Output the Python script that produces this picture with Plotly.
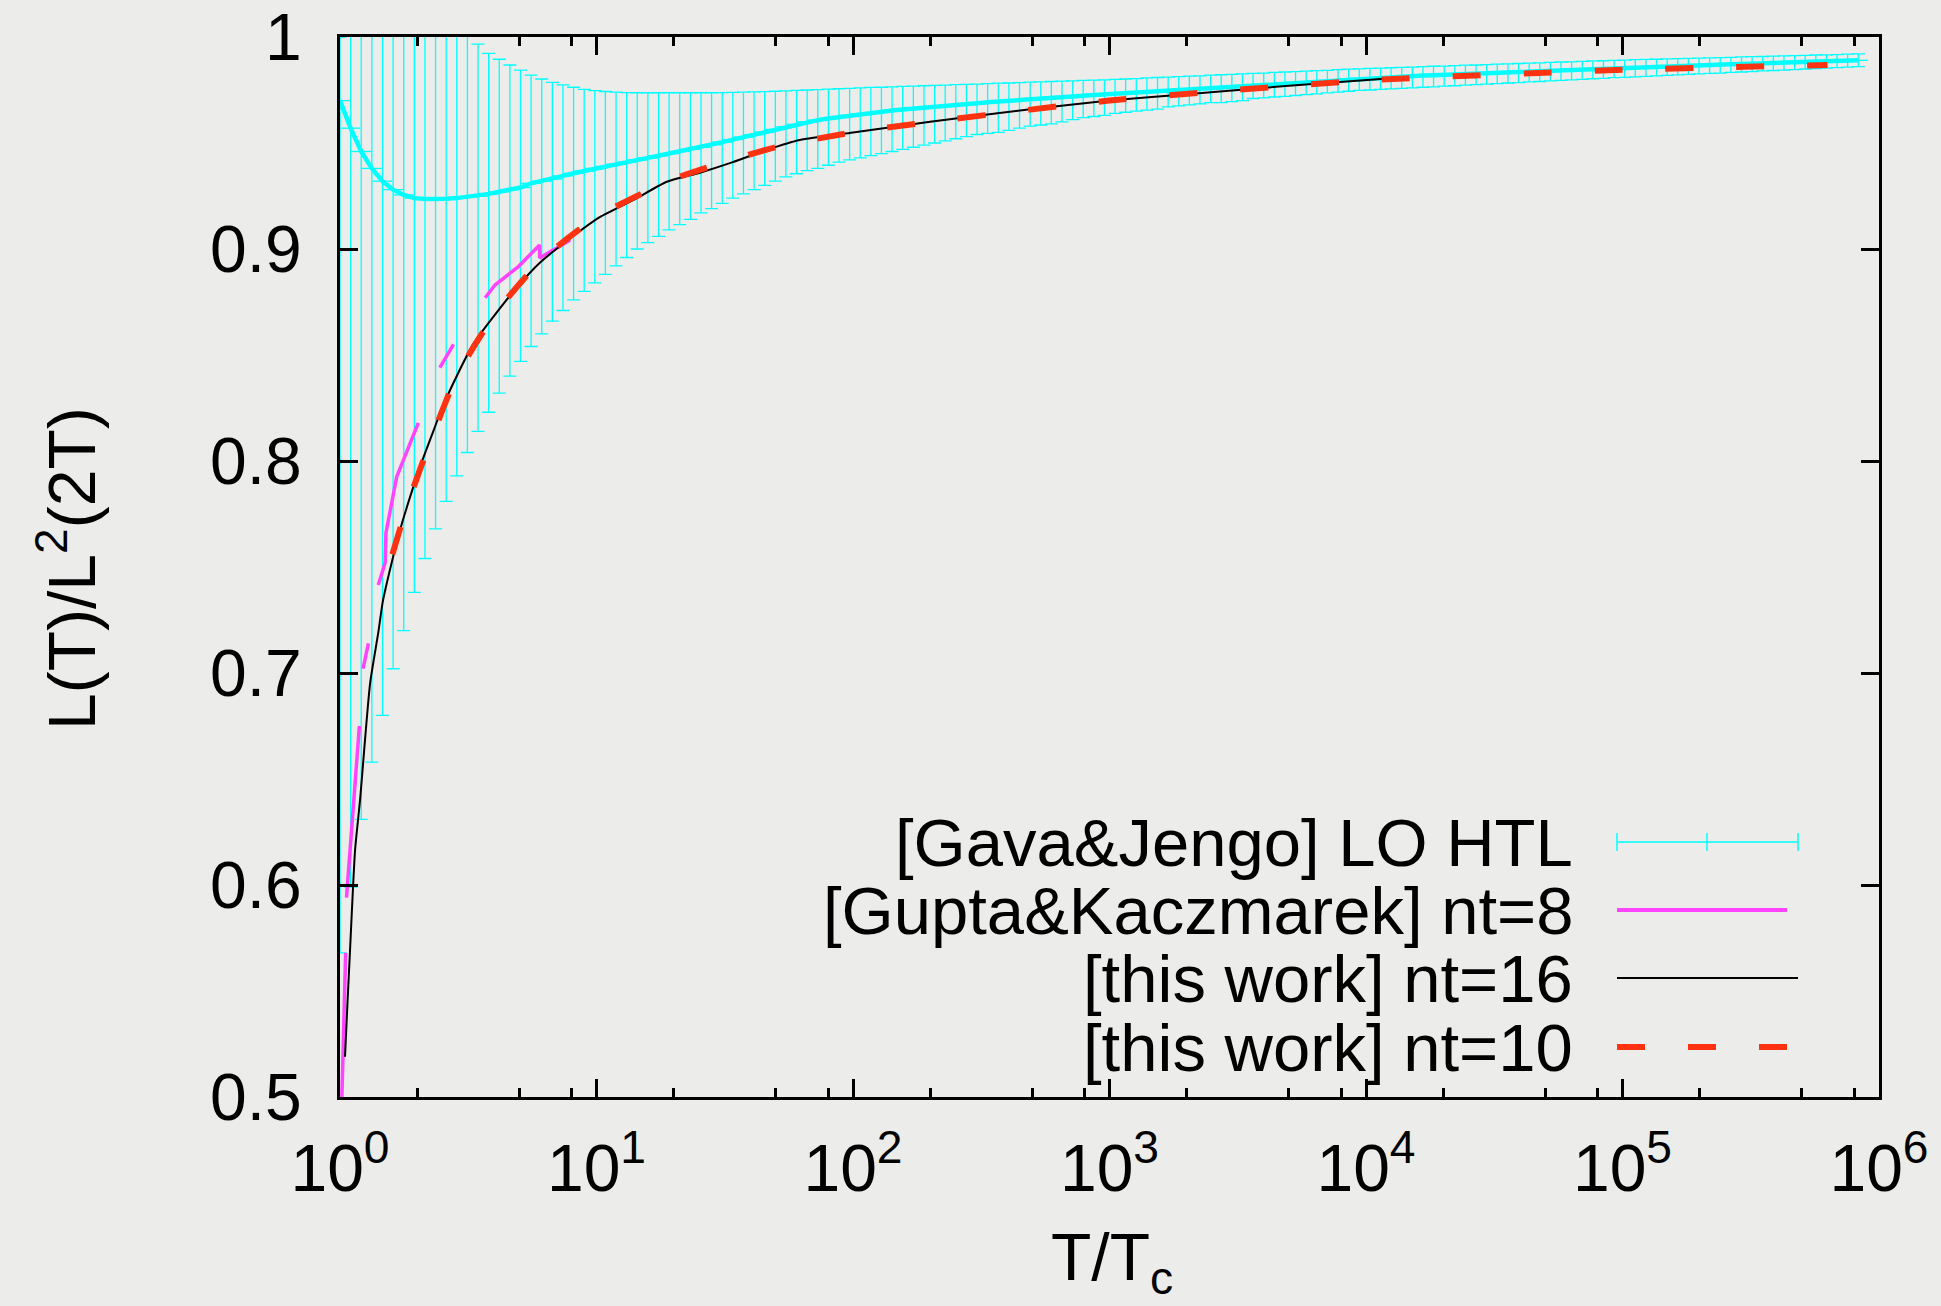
import plotly.graph_objects as go

# ---------------- data ----------------
# [Gava&Jengo] LO HTL : grid of T/Tc, central value, lower and upper band
X_GRID = [1, 1.1, 1.21, 1.331, 1.464, 1.611, 1.772, 1.949, 2.144, 2.358,
          2.594, 2.853, 3.138, 3.452, 3.797, 4.177, 4.595, 5.054, 5.560, 6.116,
          6.727, 7.400, 8.140, 8.954, 9.850, 10.83, 11.92, 13.11, 14.42, 15.86,
          17.45, 19.19, 21.11, 23.23, 25.55, 28.10, 30.91, 34.00, 37.40, 41.14,
          45.26, 49.79, 54.76, 60.24, 66.26, 72.89, 80.18, 88.20, 97.02, 106.7,
          117.4, 129.1, 142.0, 156.2, 171.9, 189.1, 208.0, 228.8, 251.6, 276.8,
          304.5, 334.9, 368.4, 405.3, 445.8, 490.4, 539.4, 593.4, 652.7, 718.0,
          789.7, 868.7, 955.6, 1051, 1156, 1272, 1399, 1539, 1693, 1862,
          2048, 2253, 2479, 2726, 2999, 3299, 3629, 3992, 4391, 4830,
          5313, 5844, 6429, 7072, 7779, 8557, 9412, 10354, 11389, 12528,
          13781, 15159, 16675, 18342, 20176, 22194, 24413, 26855, 29540, 32494,
          35744, 39318, 43250, 47575, 52332, 57566, 63322, 69654, 76620, 84282,
          92710, 101980, 112180, 123400, 135740, 149310, 164240, 180670, 198740, 218610,
          240470, 264520, 290970, 320070, 352080, 387280, 426010, 468610, 515470, 567020,
          623720, 686100, 754710, 830180]

HTL_CENTER = [0.970, 0.957, 0.946, 0.938, 0.932, 0.928, 0.9255, 0.924, 0.9236, 0.9235,
              0.9237, 0.924, 0.9245, 0.925, 0.926, 0.927, 0.928, 0.929, 0.931, 0.932,
              0.933, 0.9345, 0.9357, 0.9368, 0.938, 0.939, 0.940, 0.941, 0.942, 0.943,
              0.944, 0.945, 0.946, 0.947, 0.948, 0.9492, 0.9504, 0.9516, 0.9528, 0.954,
              0.9552, 0.9564, 0.9576, 0.9588, 0.960, 0.9608, 0.9616, 0.9623, 0.963, 0.9636,
              0.9642, 0.9648, 0.9653, 0.9658, 0.9663, 0.9668, 0.9672, 0.9676, 0.968, 0.9684,
              0.9688, 0.9692, 0.9696, 0.970, 0.9704, 0.9708, 0.9711, 0.9714, 0.9717, 0.972,
              0.9723, 0.9726, 0.9729, 0.9732, 0.9735, 0.9738, 0.9741, 0.9745, 0.9748, 0.9751,
              0.9754, 0.9757, 0.976, 0.9764, 0.9767, 0.977, 0.9773, 0.9776, 0.9779, 0.9783,
              0.9786, 0.9789, 0.9792, 0.9795, 0.9798, 0.9802, 0.9805, 0.9807, 0.9809, 0.9811,
              0.9813, 0.9815, 0.9818, 0.982, 0.9822, 0.9824, 0.9826, 0.9828, 0.983, 0.9832,
              0.9834, 0.9836, 0.9838, 0.984, 0.9843, 0.9845, 0.9847, 0.9849, 0.9851, 0.9853,
              0.9855, 0.9857, 0.9858, 0.986, 0.9861, 0.9863, 0.9864, 0.9866, 0.9867, 0.9869,
              0.987, 0.9872, 0.9873, 0.9875, 0.9876, 0.9878, 0.9879, 0.9881, 0.9882, 0.9884,
              0.9885, 0.9887, 0.9888, 0.989]

HTL_LOW = [0.568, 0.599, 0.631, 0.658, 0.680, 0.702, 0.720, 0.738, 0.754, 0.768,
           0.781, 0.793, 0.804, 0.814, 0.823, 0.832, 0.840, 0.847, 0.854, 0.860,
           0.866, 0.871, 0.876, 0.880, 0.884, 0.888, 0.892, 0.896, 0.900, 0.903,
           0.906, 0.909, 0.9115, 0.914, 0.917, 0.919, 0.9215, 0.924, 0.926, 0.928,
           0.930, 0.932, 0.934, 0.9355, 0.937, 0.938, 0.9395, 0.941, 0.942, 0.943,
           0.944, 0.945, 0.946, 0.947, 0.948, 0.949, 0.950, 0.951, 0.952, 0.953,
           0.954, 0.9545, 0.955, 0.956, 0.957, 0.958, 0.9585, 0.959, 0.960, 0.961,
           0.962, 0.9625, 0.963, 0.964, 0.9645, 0.965, 0.9655, 0.966, 0.967, 0.9675,
           0.968, 0.9685, 0.969, 0.969, 0.9695, 0.970, 0.971, 0.9713, 0.9717, 0.972,
           0.9724, 0.9728, 0.9732, 0.9736, 0.974, 0.9744, 0.9748, 0.975, 0.9753, 0.9755,
           0.9758, 0.976, 0.9763, 0.9765, 0.9768, 0.977, 0.9773, 0.9775, 0.9778, 0.978,
           0.9783, 0.9785, 0.9788, 0.979, 0.9793, 0.9795, 0.9798, 0.980, 0.9803, 0.9805,
           0.9808, 0.981, 0.9812, 0.9814, 0.9817, 0.9819, 0.9821, 0.9824, 0.9826, 0.9828,
           0.983, 0.9833, 0.9835, 0.9837, 0.984, 0.9842, 0.9844, 0.9846, 0.9849, 0.9851,
           0.9853, 0.9856, 0.9858, 0.986]

HTL_HIGH = [1.000, 1.010, 1.015, 1.018, 1.019, 1.018, 1.017, 1.015, 1.013, 1.011,
            1.008, 1.005, 1.002, 0.9966, 0.9923, 0.9895, 0.9868, 0.9844, 0.982, 0.9802,
            0.9786, 0.9774, 0.9763, 0.9753, 0.9747, 0.9743, 0.974, 0.9738, 0.9737, 0.9737,
            0.9737, 0.9737, 0.9737, 0.9737, 0.9737, 0.9737, 0.9738, 0.9739, 0.974, 0.9741,
            0.9742, 0.9744, 0.9746, 0.9748, 0.975, 0.9752, 0.9754, 0.9756, 0.9758, 0.976,
            0.9762, 0.9763, 0.9765, 0.9767, 0.9768, 0.977, 0.9772, 0.9773, 0.9775, 0.9777,
            0.9778, 0.978, 0.9782, 0.9783, 0.9785, 0.9787, 0.9788, 0.979, 0.9792, 0.9793,
            0.9795, 0.9797, 0.9798, 0.980, 0.9802, 0.9804, 0.9807, 0.9809, 0.9811, 0.9813,
            0.9815, 0.9817, 0.982, 0.9822, 0.9824, 0.9826, 0.9828, 0.983, 0.9833, 0.9835,
            0.9837, 0.9839, 0.9841, 0.9843, 0.9846, 0.9848, 0.985, 0.9852, 0.9853, 0.9855,
            0.9857, 0.9858, 0.986, 0.9862, 0.9863, 0.9865, 0.9867, 0.9868, 0.987, 0.9872,
            0.9873, 0.9875, 0.9877, 0.9878, 0.988, 0.9882, 0.9883, 0.9885, 0.9887, 0.9888,
            0.989, 0.9891, 0.9893, 0.9894, 0.9895, 0.9897, 0.9898, 0.9899, 0.990, 0.9902,
            0.9903, 0.9904, 0.9906, 0.9907, 0.9908, 0.991, 0.9911, 0.9912, 0.9913, 0.9915,
            0.9916, 0.9917, 0.9919, 0.992]

# [Gupta&Kaczmarek] nt=8 (None = gap in the curve)
GK_X = [1.012, 1.03, 1.052, None,
        1.06, 1.13, 1.19, None,
        1.23, 1.29, None,
        1.41, 1.50, 1.51, 1.664, 2.02, None,
        2.45, 2.77, None,
        3.68, 4.02, 4.96, 6.0, 6.0, 7.9]
GK_Y = [0.49, 0.53, 0.568, None,
        0.594, 0.640, 0.675, None,
        0.702, 0.714, None,
        0.7415, 0.752, 0.766, 0.7926, 0.818, None,
        0.844, 0.855, None,
        0.877, 0.883, 0.8917, 0.9019, 0.8958, 0.9042]

# [this work] nt=16
NT16_X = [1.046, 1.07, 1.094, 1.145, 1.197, 1.31, 1.41, 1.47, 1.59, 1.71,
          1.91, 2.09, 2.31, 2.52, 2.85, 3.3, 3.96, 4.9, 6.0, 7.7,
          10.3, 13.9, 18.8, 25.3, 34, 46, 62, 100, 200, 500,
          1000, 2000, 5000, 11750]
NT16_Y = [0.519, 0.545, 0.569, 0.6165, 0.640, 0.695, 0.719, 0.734, 0.752, 0.767,
          0.786, 0.800, 0.814, 0.826, 0.840, 0.855, 0.868, 0.882, 0.8934, 0.904,
          0.915, 0.923, 0.9317, 0.936, 0.941, 0.9467, 0.9514, 0.955, 0.960, 0.966,
          0.970, 0.973, 0.977, 0.9803]

# [this work] nt=10
NT10_X = [1.6, 1.84, 2.2, 2.85, 4.0, 6.0, 10, 20, 50, 100,
          1000, 10000, 100000, 630000]
NT10_Y = [0.756, 0.780, 0.806, 0.840, 0.869, 0.894, 0.915, 0.933, 0.948, 0.955,
          0.970, 0.9795, 0.9845, 0.9868]

X_TICKS = [1, 10, 100, 1000, 10000, 100000, 1000000]
X_TICKTEXT = ["10<sup>0</sup>", "10<sup>1</sup>", "10<sup>2</sup>", "10<sup>3</sup>",
              "10<sup>4</sup>", "10<sup>5</sup>", "10<sup>6</sup>"]
X_MINOR = [2, 5, 8, 20, 50, 80, 200, 500, 800, 2000, 5000, 8000,
           20000, 50000, 80000, 200000, 500000, 800000]
Y_TICKS = [0.5, 0.6, 0.7, 0.8, 0.9, 1.0]
Y_TICKTEXT = ["0.5", "0.6", "0.7", "0.8", "0.9", "1"]

LEGEND_LABELS = ["[Gava&Jengo] LO HTL", "[Gupta&Kaczmarek] nt=8",
                 "[this work] nt=16", "[this work] nt=10"]

# ---------------- styling ----------------
CYAN = "#00FFFF"
MAGENTA = "#FF44FF"
BLACK = "#000000"
RED = "#FF3311"
BG = "#ECEDEA"
FONT = "Liberation Sans, Arial, Helvetica, sans-serif"
FS = 66
FS_LEG = 67

W, H = 1941, 1306
L, R, T, B = 340, 62, 37, 209
PW, PH = W - L - R, H - T - B


def px_to_paper(px, py):
    return (px - L) / PW, (H - B - py) / PH


fig = go.Figure()

err_plus = [h - c for h, c in zip(HTL_HIGH, HTL_CENTER)]
err_minus = [c - l for c, l in zip(HTL_CENTER, HTL_LOW)]

fig.add_trace(go.Scatter(
    x=X_GRID, y=HTL_CENTER, mode="markers",
    marker=dict(symbol="line-ew", size=14, color=CYAN, line=dict(color=CYAN, width=1.3)),
    error_y=dict(type="data", symmetric=False, array=err_plus, arrayminus=err_minus,
                 color=CYAN, thickness=1.3, width=6.5),
    showlegend=False, hoverinfo="skip"))
fig.add_trace(go.Scatter(
    x=X_GRID, y=HTL_CENTER, mode="lines",
    line=dict(color=CYAN, width=4.5), showlegend=False))
fig.add_trace(go.Scatter(
    x=GK_X, y=GK_Y, mode="lines", connectgaps=False,
    line=dict(color=MAGENTA, width=3.5), showlegend=False))
fig.add_trace(go.Scatter(
    x=NT16_X, y=NT16_Y, mode="lines",
    line=dict(color=BLACK, width=2, shape="spline", smoothing=0.6), showlegend=False))
fig.add_trace(go.Scatter(
    x=NT10_X, y=NT10_Y, mode="lines",
    line=dict(color=RED, width=6, dash="28px,43px", shape="spline", smoothing=0.6),
    showlegend=False))

# ---------------- legend (text left of the sample, as in the reference) ----------------
annotations = []
shapes = []
rows_py = [842, 910, 978, 1047]
text_right_px = 1575
for label, py in zip(LEGEND_LABELS, rows_py):
    xp, yp = px_to_paper(text_right_px, py)
    annotations.append(dict(text=label, x=xp, y=yp, xref="paper", yref="paper",
                            xanchor="right", yanchor="middle", showarrow=False,
                            font=dict(family=FONT, size=FS_LEG, color="black")))

x0, _ = px_to_paper(1617, 0)
x1, _ = px_to_paper(1798, 0)
xm, _ = px_to_paper(1707, 0)
x1s, _ = px_to_paper(1787, 0)
_, y_c = px_to_paper(0, rows_py[0])
_, y_ct = px_to_paper(0, rows_py[0] - 9)
_, y_cb = px_to_paper(0, rows_py[0] + 9)
_, y_m = px_to_paper(0, rows_py[1])
_, y_k = px_to_paper(0, rows_py[2])
_, y_r = px_to_paper(0, rows_py[3])
shapes += [
    dict(type="line", xref="paper", yref="paper", x0=x0, x1=x1, y0=y_c, y1=y_c,
         line=dict(color=CYAN, width=1.5)),
    dict(type="line", xref="paper", yref="paper", x0=x0, x1=x0, y0=y_cb, y1=y_ct,
         line=dict(color=CYAN, width=1.5)),
    dict(type="line", xref="paper", yref="paper", x0=x1, x1=x1, y0=y_cb, y1=y_ct,
         line=dict(color=CYAN, width=1.5)),
    dict(type="line", xref="paper", yref="paper", x0=xm, x1=xm, y0=y_cb, y1=y_ct,
         line=dict(color=CYAN, width=1.5)),
    dict(type="line", xref="paper", yref="paper", x0=x0, x1=x1s, y0=y_m, y1=y_m,
         line=dict(color=MAGENTA, width=4)),
    dict(type="line", xref="paper", yref="paper", x0=x0, x1=x1, y0=y_k, y1=y_k,
         line=dict(color=BLACK, width=2)),
    dict(type="line", xref="paper", yref="paper", x0=x0, x1=x1s, y0=y_r, y1=y_r,
         line=dict(color=RED, width=6, dash="28px,43px")),
]

# axis titles
ytx, yty = px_to_paper(67, 569)
annotations.append(dict(text="L(T)/L<sup>2</sup>(2T)", x=ytx, y=yty, xref="paper", yref="paper",
                        xanchor="center", yanchor="middle", textangle=-90, showarrow=False,
                        font=dict(family=FONT, size=FS, color="black")))
xtx, xty = px_to_paper(1112, 1218)
annotations.append(dict(text="T/T<sub>c</sub>", x=xtx, y=xty, xref="paper", yref="paper",
                        xanchor="center", yanchor="top", showarrow=False,
                        font=dict(family=FONT, size=FS, color="black")))

axis_common = dict(showline=True, linecolor="black", linewidth=3, mirror="ticks",
                   ticks="inside", ticklen=18, tickwidth=2.5, tickcolor="black",
                   showgrid=False, zeroline=False,
                   tickfont=dict(family=FONT, size=FS, color="black"))

fig.update_layout(
    width=W, height=H,
    margin=dict(l=L, r=R, t=T, b=B, autoexpand=False),
    paper_bgcolor=BG, plot_bgcolor=BG,
    showlegend=False,
    font=dict(family=FONT, size=FS, color="black"),
    xaxis=dict(type="log", range=[0, 6], tickmode="array", tickvals=X_TICKS,
               ticktext=X_TICKTEXT, ticklabelstandoff=12,
               minor=dict(tickmode="array", tickvals=X_MINOR, ticks="inside", ticklen=9,
                          tickwidth=2.5, tickcolor="black", showgrid=False),
               **axis_common),
    yaxis=dict(range=[0.5, 1.0], tickmode="array", tickvals=Y_TICKS, ticktext=Y_TICKTEXT,
               ticklabelstandoff=22, **axis_common),
    annotations=annotations,
    shapes=shapes,
)

fig.write_html("out.html")
